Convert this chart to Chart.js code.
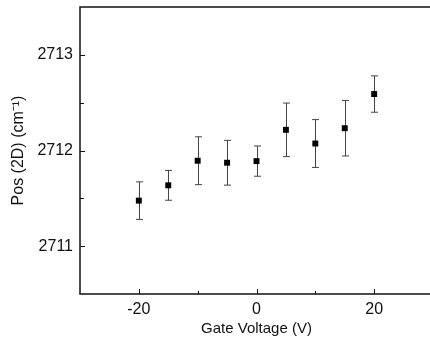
<!DOCTYPE html>
<html>
<head>
<meta charset="utf-8">
<script src="https://cdn.jsdelivr.net/npm/chart.js@4/dist/chart.umd.min.js"></script>
<style>
  html, body { margin: 0; padding: 0; background: #fff; overflow: hidden; }
  #wrap { width: 440px; height: 349px; }
</style>
</head>
<body>
<div id="wrap"><canvas id="chart" width="440" height="349"></canvas></div>
<script>
const gateVoltage = [-20, -15, -10, -5, 0, 5, 10, 15, 20];
const pos2D = [2711.476, 2711.636, 2711.893, 2711.872, 2711.889, 2712.216, 2712.073, 2712.233, 2712.59];
const posError = [0.196, 0.156, 0.25, 0.234, 0.158, 0.28, 0.25, 0.29, 0.19];

const xLabelTicks = [-20, 0, 20];
const yLabelTicks = [2711, 2712, 2713];

const fontFamily = '"Liberation Sans", Arial, sans-serif';

// error bars + frame + inward ticks
const decorations = {
    id: 'decorations',
    beforeDatasetsDraw(chart) {
        const ctx = chart.ctx;
        const xs = chart.scales.x, ys = chart.scales.y;
        ctx.save();
        ctx.strokeStyle = '#444';
        ctx.lineWidth = 1;
        gateVoltage.forEach((v, i) => {
            const px = Math.round(xs.getPixelForValue(v)) + 0.5;
            const top = ys.getPixelForValue(pos2D[i] + posError[i]);
            const bot = ys.getPixelForValue(pos2D[i] - posError[i]);
            ctx.beginPath();
            ctx.moveTo(px, top);
            ctx.lineTo(px, bot);
            ctx.moveTo(px - 3.5, top);
            ctx.lineTo(px + 3.5, top);
            ctx.moveTo(px - 3.5, bot);
            ctx.lineTo(px + 3.5, bot);
            ctx.stroke();
        });
        ctx.restore();
    },
    afterDraw(chart) {
        const ctx = chart.ctx;
        const a = chart.chartArea;
        const xs = chart.scales.x, ys = chart.scales.y;
        ctx.save();
        ctx.strokeStyle = '#111';
        ctx.lineWidth = 1.5;
        ctx.strokeRect(a.left, a.top, a.right - a.left, a.bottom - a.top);
        ctx.lineWidth = 1;
        ctx.beginPath();
        xs.ticks.forEach(t => {
            if (t.value <= xs.min || t.value >= xs.max) return;
            const px = Math.round(xs.getPixelForValue(t.value)) + 0.5;
            const len = xLabelTicks.includes(t.value) ? 5 : 3;
            ctx.moveTo(px, a.bottom);
            ctx.lineTo(px, a.bottom - len);
        });
        ys.ticks.forEach(t => {
            if (t.value <= ys.min || t.value >= ys.max) return;
            const py = Math.round(ys.getPixelForValue(t.value)) + 0.5;
            const len = yLabelTicks.includes(t.value) ? 5 : 4;
            ctx.moveTo(a.left, py);
            ctx.lineTo(a.left + len, py);
        });
        ctx.stroke();
        ctx.restore();
    }
};

function noEdgePadding(scale) {
    scale.paddingTop = 0;
    scale.paddingBottom = 0;
    scale.paddingLeft = 0;
    scale.paddingRight = 0;
}

new Chart(document.getElementById('chart'), {
    type: 'scatter',
    data: {
        datasets: [{
            data: gateVoltage.map((v, i) => ({ x: v, y: pos2D[i] })),
            backgroundColor: '#000',
            borderWidth: 0,
            pointStyle: 'rect',
            pointRadius: 4.2
        }]
    },
    options: {
        responsive: false,
        animation: false,
        layout: { padding: { top: 7, right: 7, left: 0, bottom: 0 } },
        plugins: {
            legend: { display: false },
            tooltip: { enabled: false }
        },
        scales: {
            x: {
                min: -30,
                max: 30,
                grid: { display: false, drawTicks: false },
                border: { display: false },
                ticks: {
                    stepSize: 10,
                    padding: 6,
                    color: '#111',
                    font: { family: fontFamily, size: 16 },
                    callback: v => xLabelTicks.includes(v) ? String(v) : ''
                },
                title: {
                    display: true,
                    text: 'Gate Voltage (V)',
                    color: '#111',
                    font: { family: fontFamily, size: 15 },
                    padding: { top: 4, bottom: 11 }
                },
                afterFit(scale) { noEdgePadding(scale); scale.height = 55; }
            },
            y: {
                min: 2710.5,
                max: 2713.5,
                grid: { display: false, drawTicks: false },
                border: { display: false },
                ticks: {
                    stepSize: 0.5,
                    padding: 7,
                    color: '#111',
                    font: { family: fontFamily, size: 16 },
                    callback: v => yLabelTicks.includes(v) ? String(v) : ''
                },
                title: {
                    display: true,
                    text: 'Pos (2D) (cm\u207B\u00B9)',
                    color: '#111',
                    font: { family: fontFamily, size: 16 },
                    padding: { top: 9, bottom: 0 }
                },
                afterFit(scale) { noEdgePadding(scale); scale.width = 80; }
            }
        }
    },
    plugins: [decorations]
});
</script>
</body>
</html>
